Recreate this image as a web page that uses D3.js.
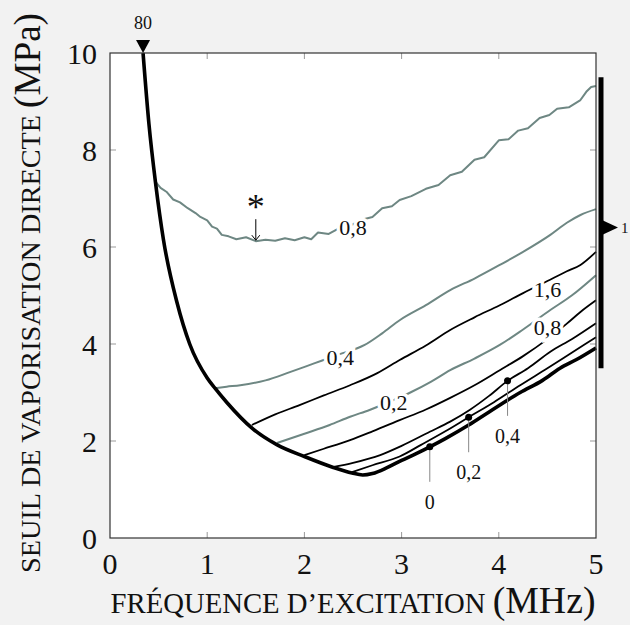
<!DOCTYPE html>
<html>
<head>
<meta charset="utf-8">
<script src="https://cdn.jsdelivr.net/npm/d3@7"></script>
<style>
  body { margin: 0; background: #f2f2f2; }
  svg text { font-family: "Liberation Serif", "DejaVu Serif", serif; fill: #111; }
</style>
</head>
<body>
<svg width="630" height="625"></svg>
<script>
// axis ticks
const xTicks = [0, 1, 2, 3, 4, 5]
const yTicks = [0, 2, 4, 6, 8, 10]

// thick curve (0) incl. the left envelope
const thickX = [0.34, 0.40, 0.47, 0.55, 0.69, 0.82, 1.0, 1.08, 1.2, 1.47, 1.72, 2.0, 2.29, 2.49, 2.6, 2.7, 2.85, 3.0, 3.15, 3.29, 3.45, 3.69, 3.9, 4.22, 4.45, 4.63, 4.8, 5.0]
const thickY = [10, 8.55, 7.3, 6.15, 4.85, 4.0, 3.3, 3.09, 2.8, 2.25, 1.92, 1.68, 1.46, 1.34, 1.3, 1.33, 1.45, 1.6, 1.74, 1.88, 2.05, 2.33, 2.6, 3.0, 3.25, 3.5, 3.68, 3.92]

// black thin curves
const black02X = [2.49, 2.7, 2.98, 3.2, 3.45, 3.69, 3.95, 4.22, 4.5, 4.75, 5.0]
const black02Y = [1.36, 1.5, 1.68, 1.92, 2.2, 2.49, 2.8, 3.15, 3.5, 3.82, 4.14]
const black04X = [2.29, 2.5, 2.78, 3.0, 3.29, 3.5, 3.7, 3.9, 4.09, 4.3, 4.53, 4.75, 5.0]
const black04Y = [1.46, 1.55, 1.71, 1.9, 2.19, 2.4, 2.64, 2.93, 3.24, 3.5, 3.84, 4.1, 4.43]
const black08X = [2.0, 2.2, 2.47, 2.7, 2.98, 3.25, 3.5, 3.75, 4.01, 4.25, 4.5, 4.7, 4.84, 5.0]
const black08Y = [1.71, 1.84, 2.02, 2.2, 2.43, 2.65, 2.89, 3.15, 3.46, 3.75, 4.1, 4.42, 4.66, 4.9]
const black16X = [1.46, 1.7, 1.95, 2.2, 2.47, 2.75, 2.98, 3.25, 3.5, 3.75, 4.01, 4.25, 4.5, 4.7, 4.84, 5.0]
const black16Y = [2.33, 2.55, 2.74, 2.94, 3.15, 3.4, 3.67, 3.97, 4.29, 4.55, 4.8, 5.05, 5.3, 5.5, 5.63, 5.9]

// gray curves
const gray02X = [1.72, 2.0, 2.26, 2.47, 2.67, 2.9, 3.1, 3.3, 3.5, 3.75, 4.01, 4.25, 4.53, 4.75, 5.0]
const gray02Y = [1.96, 2.15, 2.33, 2.5, 2.64, 2.83, 3.01, 3.22, 3.46, 3.7, 3.98, 4.3, 4.7, 5.0, 5.42]
const gray04X = [1.08, 1.2, 1.34, 1.6, 1.85, 2.1, 2.35, 2.62, 2.8, 2.98, 3.25, 3.5, 3.75, 4.01, 4.25, 4.53, 4.7, 4.84, 5.0]
const gray04Y = [3.09, 3.12, 3.15, 3.25, 3.42, 3.6, 3.78, 3.98, 4.22, 4.49, 4.8, 5.11, 5.35, 5.63, 5.9, 6.25, 6.5, 6.66, 6.78]
const gray08X = [0.47, 0.52, 0.58, 0.65, 0.72, 0.8, 0.88, 0.93, 1.0, 1.05, 1.1, 1.15, 1.22, 1.3, 1.4, 1.5, 1.6, 1.7, 1.8, 1.9, 2.0, 2.07, 2.14, 2.25, 2.35, 2.46, 2.57, 2.7, 2.8, 2.9, 2.98, 3.1, 3.25, 3.38, 3.5, 3.62, 3.75, 3.85, 4.0, 4.1, 4.2, 4.3, 4.42, 4.52, 4.6, 4.72, 4.84, 4.9, 4.95, 5.0]
const gray08Y = [7.34, 7.22, 7.14, 6.98, 6.92, 6.8, 6.7, 6.62, 6.55, 6.42, 6.38, 6.25, 6.22, 6.16, 6.2, 6.12, 6.15, 6.13, 6.18, 6.14, 6.2, 6.16, 6.3, 6.27, 6.38, 6.42, 6.55, 6.62, 6.8, 6.84, 6.97, 7.05, 7.2, 7.28, 7.48, 7.55, 7.8, 7.85, 8.2, 8.22, 8.4, 8.45, 8.66, 8.72, 8.85, 8.88, 9.03, 9.2, 9.3, 9.32]

// inline labels [text, x, y]
const curveLabels = [['0,8', 2.5, 6.4], ['0,4', 2.37, 3.72], ['0,2', 2.92, 2.8], ['1,6', 4.5, 5.12], ['0,8', 4.5, 4.35]]
// dotted markers [text, x, y]
const dotLabels = [['0', 3.29, 1.88], ['0,2', 3.69, 2.49], ['0,4', 4.09, 3.24]]

const grayColor = '#6e8783'

const svg = d3.select('svg')
const margin = { top: 53, right: 34, bottom: 87, left: 110 }
const width = +svg.attr('width')
const height = +svg.attr('height')
const innerWidth = width - margin.left - margin.right
const innerHeight = height - margin.top - margin.bottom

const xScale = d3.scaleLinear().domain([0, 5]).range([0, innerWidth])
const yScale = d3.scaleLinear().domain([0, 10]).range([innerHeight, 0])

const g = svg.append('g')
  .attr('transform', `translate(${margin.left},${margin.top})`)

g.append('rect')
  .attr('width', innerWidth)
  .attr('height', innerHeight)
  .attr('fill', 'white')

// inner ticks
const tickLen = 6
xTicks.slice(1, -1).forEach(t => {
  g.append('line').attr('x1', xScale(t)).attr('x2', xScale(t))
    .attr('y1', innerHeight).attr('y2', innerHeight - tickLen)
    .attr('stroke', '#999')
  g.append('line').attr('x1', xScale(t)).attr('x2', xScale(t))
    .attr('y1', 0).attr('y2', tickLen)
    .attr('stroke', '#999')
})
yTicks.slice(1, -1).forEach(t => {
  g.append('line').attr('y1', yScale(t)).attr('y2', yScale(t))
    .attr('x1', 0).attr('x2', tickLen)
    .attr('stroke', '#999')
  g.append('line').attr('y1', yScale(t)).attr('y2', yScale(t))
    .attr('x1', innerWidth).attr('x2', innerWidth - tickLen)
    .attr('stroke', '#999')
})

const smooth = d3.line()
  .x(d => xScale(d[0]))
  .y(d => yScale(d[1]))
  .curve(d3.curveMonotoneX)
const rough = d3.line()
  .x(d => xScale(d[0]))
  .y(d => yScale(d[1]))

const zip = (xs, ys) => xs.map((x, i) => [x, ys[i]])

const curves = [
  { x: gray08X, y: gray08Y, color: grayColor, w: 2, gen: rough },
  { x: gray04X, y: gray04Y, color: grayColor, w: 2, gen: smooth },
  { x: gray02X, y: gray02Y, color: grayColor, w: 2, gen: smooth },
  { x: black16X, y: black16Y, color: '#000', w: 1.8, gen: smooth },
  { x: black08X, y: black08Y, color: '#000', w: 1.8, gen: smooth },
  { x: black04X, y: black04Y, color: '#000', w: 1.8, gen: smooth },
  { x: black02X, y: black02Y, color: '#000', w: 1.8, gen: smooth },
  { x: thickX, y: thickY, color: '#000', w: 3.6, gen: smooth }
]

g.selectAll('path.curve').data(curves)
  .enter().append('path')
  .attr('class', 'curve')
  .attr('fill', 'none')
  .attr('stroke', d => d.color)
  .attr('stroke-width', d => d.w)
  .attr('stroke-linejoin', 'round')
  .attr('d', d => d.gen(zip(d.x, d.y)))

// labels on curves with white halo to cut the line
g.selectAll('text.clabel').data(curveLabels)
  .enter().append('text')
  .attr('class', 'clabel')
  .attr('x', d => xScale(d[1]))
  .attr('y', d => yScale(d[2]))
  .attr('text-anchor', 'middle')
  .attr('dominant-baseline', 'central')
  .attr('font-size', 22)
  .attr('stroke', 'white')
  .attr('stroke-width', 7)
  .attr('paint-order', 'stroke')
  .text(d => d[0])

// dots with leader lines
dotLabels.forEach(([txt, x, y]) => {
  const px = xScale(x)
  const py = yScale(y)
  g.append('line')
    .attr('x1', px).attr('x2', px)
    .attr('y1', py).attr('y2', py + 35)
    .attr('stroke', '#888').attr('stroke-width', 1)
  g.append('circle')
    .attr('cx', px).attr('cy', py).attr('r', 3.5)
    .attr('fill', '#000')
  g.append('text')
    .attr('x', px).attr('y', py + 55)
    .attr('text-anchor', 'middle')
    .attr('dominant-baseline', 'central')
    .attr('font-size', 20)
    .text(txt)
})

// asterisk + arrow at the minimum of the upper gray curve
const ax = xScale(1.5)
const ay = yScale(6.12)
g.append('text')
  .attr('x', ax).attr('y', ay - 22)
  .attr('text-anchor', 'middle')
  .attr('font-size', 36)
  .text('*')
g.append('line')
  .attr('x1', ax).attr('x2', ax)
  .attr('y1', ay - 22).attr('y2', ay - 1)
  .attr('stroke', '#000').attr('stroke-width', 1)
g.append('path')
  .attr('d', `M${ax - 4},${ay - 6} L${ax},${ay - 1} L${ax + 4},${ay - 6}`)
  .attr('fill', 'none').attr('stroke', '#000').attr('stroke-width', 1)

// frame
g.append('rect')
  .attr('width', innerWidth)
  .attr('height', innerHeight)
  .attr('fill', 'none')
  .attr('stroke', '#333')
  .attr('stroke-width', 1.2)

// tick labels
g.selectAll('text.xt').data(xTicks)
  .enter().append('text')
  .attr('class', 'xt')
  .attr('x', d => xScale(d))
  .attr('y', innerHeight + 36)
  .attr('text-anchor', 'middle')
  .attr('font-size', 30)
  .text(d => d)

g.selectAll('text.yt').data(yTicks)
  .enter().append('text')
  .attr('class', 'yt')
  .attr('x', -13)
  .attr('y', d => yScale(d))
  .attr('text-anchor', 'end')
  .attr('dominant-baseline', 'central')
  .attr('font-size', 30)
  .text(d => d)

// marker at top of the envelope
const tx = xScale(thickX[0])
g.append('path')
  .attr('d', `M${tx - 7},-13 L${tx + 7},-13 L${tx},0 Z`)
  .attr('fill', '#000')
g.append('text')
  .attr('x', tx).attr('y', -30)
  .attr('text-anchor', 'middle')
  .attr('dominant-baseline', 'central')
  .attr('font-size', 18)
  .text('80')

// right-hand bar with marker
const bx = innerWidth + 5
g.append('line')
  .attr('x1', bx).attr('x2', bx)
  .attr('y1', yScale(9.5)).attr('y2', yScale(3.5))
  .attr('stroke', '#000').attr('stroke-width', 5)
const my = yScale(6.4)
g.append('path')
  .attr('d', `M${bx + 2},${my - 7} L${bx + 17},${my} L${bx + 2},${my + 7} Z`)
  .attr('fill', '#000')
g.append('text')
  .attr('x', bx + 20).attr('y', my)
  .attr('dominant-baseline', 'central')
  .attr('font-size', 15)
  .text('1')

// axis titles: small caps drawn as smaller capitals, units at full size,
// then both sizes scaled together to reach the target width
const smallRatio = 0.76
const makeTitle = (sel, words, units, target) => {
  const a = sel.append('tspan').text(words)
  const b = sel.append('tspan').text(units)
  const setSize = (s) => {
    a.attr('font-size', s * smallRatio)
    b.attr('font-size', s)
  }
  setSize(30)
  const len = sel.node().getComputedTextLength()
  setSize(30 * target / len)
}

const xTitle = svg.append('text')
  .attr('x', margin.left + innerWidth / 2)
  .attr('y', 613)
  .attr('text-anchor', 'middle')
makeTitle(xTitle, 'FRÉQUENCE D’EXCITATION ', '(MHz)', 485)

const yTitle = svg.append('text')
  .attr('transform', 'translate(40,293) rotate(-90)')
  .attr('text-anchor', 'middle')
makeTitle(yTitle, 'SEUIL DE VAPORISATION DIRECTE ', '(MPa)', 560)
</script>
</body>
</html>
